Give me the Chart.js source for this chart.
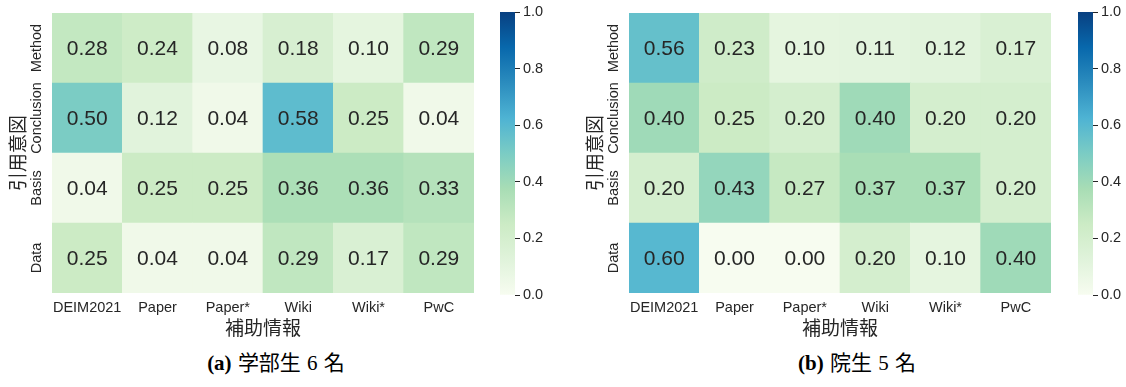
<!DOCTYPE html>
<html>
<head>
<meta charset="utf-8">
<script src="https://cdn.jsdelivr.net/npm/chart.js@4.4.1/dist/chart.umd.min.js"></script>
<style>
  html, body { margin: 0; padding: 0; background: #fff; }
  #wrap { position: relative; width: 1126px; height: 387px; overflow: hidden; }
  canvas { position: absolute; }
  .cap {
    position: absolute; top: 351px; line-height: 24px;
    font-family: "Liberation Serif", "Noto Sans CJK JP", serif;
    font-size: 21px; color: #000; white-space: nowrap; word-spacing: 1px;
    transform: translateX(-50%);
  }
</style>
</head>
<body>
<div id="wrap">
  <canvas id="hmA" width="480" height="345" style="left:0px;top:0px"></canvas>
  <canvas id="cbA" width="65" height="310" style="left:490px;top:0px"></canvas>
  <canvas id="hmB" width="480" height="345" style="left:577px;top:0px"></canvas>
  <canvas id="cbB" width="58" height="310" style="left:1068px;top:0px"></canvas>
  <div class="cap" style="left:276px"><b>(a)</b> 学部生 6 名</div>
  <div class="cap" style="left:857px"><b>(b)</b> 院生 5 名</div>
</div>
<script>
// Supplementary information sources (columns) and citation intents (rows, top to bottom)
const sources = ['DEIM2021', 'Paper', 'Paper*', 'Wiki', 'Wiki*', 'PwC'];
const intents = ['Method', 'Conclusion', 'Basis', 'Data'];

// Undergraduate students (6)
const ugMethod     = [0.28, 0.24, 0.08, 0.18, 0.10, 0.29];
const ugConclusion = [0.50, 0.12, 0.04, 0.58, 0.25, 0.04];
const ugBasis      = [0.04, 0.25, 0.25, 0.36, 0.36, 0.33];
const ugData       = [0.25, 0.04, 0.04, 0.29, 0.17, 0.29];

// Graduate students (5)
const gsMethod     = [0.56, 0.23, 0.10, 0.11, 0.12, 0.17];
const gsConclusion = [0.40, 0.25, 0.20, 0.40, 0.20, 0.20];
const gsBasis      = [0.20, 0.43, 0.27, 0.37, 0.37, 0.20];
const gsData       = [0.60, 0.00, 0.00, 0.20, 0.10, 0.40];

// Colour bar range and ticks
const cbarMin = 0;
const cbarMax = 1;
const cbarTicks = [0.0, 0.2, 0.4, 0.6, 0.8, 1.0];

// GnBu colour map stops
const GNBU = ['#f7fcf0', '#e0f3db', '#ccebc5', '#a8ddb5', '#7bccc4',
              '#4eb3d3', '#2b8cbe', '#0868ac', '#084081'];

const TEXT = '#262626';
const TICK_FONT = { family: '"Liberation Sans", Arial, sans-serif', size: 14.5 };
const TITLE_FONT = { family: '"Noto Sans CJK JP", sans-serif', size: 19 };

function hexToRgb(h) {
  return [1, 3, 5].map(i => parseInt(h.slice(i, i + 2), 16));
}
function gnbu(v) {
  const t = Math.min(1, Math.max(0, (v - cbarMin) / (cbarMax - cbarMin))) * (GNBU.length - 1);
  const i = Math.min(GNBU.length - 2, Math.floor(t));
  const f = t - i;
  const a = hexToRgb(GNBU[i]), b = hexToRgb(GNBU[i + 1]);
  const c = a.map((x, k) => Math.round(x + (b[k] - x) * f));
  return `rgb(${c[0]},${c[1]},${c[2]})`;
}

// Cell annotations: each bar carries its value in the middle
const cellLabels = {
  id: 'cellLabels',
  afterDatasetsDraw(chart) {
    const ctx = chart.ctx;
    ctx.save();
    ctx.font = '21px "Liberation Sans", Arial, sans-serif';
    ctx.fillStyle = TEXT;
    ctx.textAlign = 'center';
    ctx.textBaseline = 'middle';
    chart.data.datasets.forEach((ds, di) => {
      chart.getDatasetMeta(di).data.forEach((bar, i) => {
        ctx.fillText(ds.values[i].toFixed(2), bar.x, (bar.y + bar.base) / 2 + 1);
      });
    });
    ctx.restore();
  }
};

// Offset for the rotated row labels so their centres sit 15.5px left of the plot
function rowLabelPadding() {
  const c = document.createElement('canvas').getContext('2d');
  c.font = `${TICK_FONT.size}px ${TICK_FONT.family}`;
  const widest = Math.max(...intents.map(s => c.measureText(s).width));
  return 15.5 - widest / 2;
}

function makeHeatmap(id, rows) {
  // rows are top-to-bottom; stacked bars are built bottom-up
  const datasets = rows.slice().reverse().map((vals, k) => ({
    label: intents[intents.length - 1 - k],
    data: sources.map(() => 1),
    values: vals,
    backgroundColor: vals.map(gnbu),
    borderWidth: 0,
    barPercentage: 1,
    categoryPercentage: 1
  }));
  return new Chart(document.getElementById(id), {
    type: 'bar',
    data: { labels: sources, datasets },
    plugins: [cellLabels],
    options: {
      responsive: false,
      animation: false,
      layout: { padding: { top: 13, right: 6, left: 0, bottom: 0 } },
      plugins: { legend: { display: false }, tooltip: { enabled: false } },
      scales: {
        x: {
          stacked: true,
          grid: { display: false, drawTicks: false },
          border: { display: false },
          ticks: { font: TICK_FONT, color: TEXT, padding: 6, maxRotation: 0, minRotation: 0, autoSkip: false },
          title: { display: true, text: '補助情報', font: TITLE_FONT, color: TEXT, padding: { top: 0, bottom: 5.6 } },
          afterFit(s) { s.height = 52; }
        },
        y: {
          stacked: true,
          min: 0,
          max: intents.length,
          grid: { display: false, drawTicks: false },
          border: { display: false },
          afterBuildTicks(s) { s.ticks = intents.map((_, i) => ({ value: i + 0.5 })); },
          ticks: {
            font: TICK_FONT, color: TEXT, autoSkip: false,
            minRotation: 90, maxRotation: 90, crossAlign: 'center',
            padding: rowLabelPadding(),
            callback: v => intents[intents.length - 1 - Math.floor(v)]
          },
          title: { display: true, text: '引用意図', font: TITLE_FONT, color: TEXT, padding: { top: 6.5, bottom: 0 } },
          afterFit(s) { s.width = 52; }
        }
      }
    }
  });
}

function makeColorbar(id, axisWidth) {
  return new Chart(document.getElementById(id), {
    type: 'bar',
    data: {
      labels: [''],
      datasets: [{
        data: [cbarMax],
        borderWidth: 0,
        barPercentage: 1,
        categoryPercentage: 1,
        backgroundColor(ctx) {
          const a = ctx.chart.chartArea;
          if (!a) return GNBU[0];
          const g = ctx.chart.ctx.createLinearGradient(0, a.bottom, 0, a.top);
          GNBU.forEach((c, i) => g.addColorStop(i / (GNBU.length - 1), c));
          return g;
        }
      }]
    },
    options: {
      responsive: false,
      animation: false,
      layout: { padding: { left: 10, top: 12, bottom: 15, right: 0 } },
      plugins: { legend: { display: false }, tooltip: { enabled: false } },
      scales: {
        x: { display: false },
        y: {
          position: 'right',
          min: cbarMin,
          max: cbarMax,
          afterBuildTicks(s) { s.ticks = cbarTicks.map(v => ({ value: v })); },
          ticks: { font: TICK_FONT, color: TEXT, padding: 3, callback: v => v.toFixed(1) },
          grid: { drawOnChartArea: false, tickLength: 5, color: TEXT, lineWidth: 1 },
          border: { display: false },
          afterFit(s) { s.width = axisWidth; }
        }
      }
    }
  });
}

makeHeatmap('hmA', [ugMethod, ugConclusion, ugBasis, ugData]);
makeColorbar('cbA', 40);
makeHeatmap('hmB', [gsMethod, gsConclusion, gsBasis, gsData]);
makeColorbar('cbB', 33);
</script>
</body>
</html>
